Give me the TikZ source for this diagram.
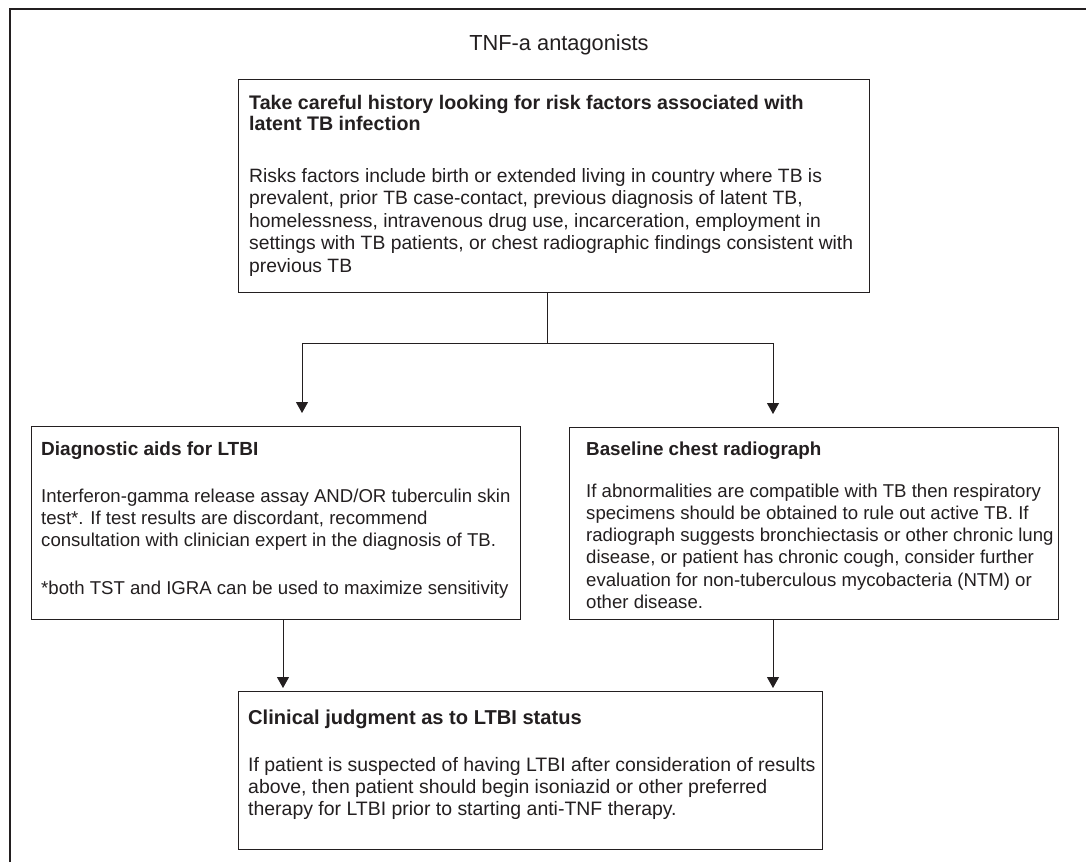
\documentclass[tikz,border=0pt]{standalone}
\usepackage{fontspec}
\setmainfont{Liberation Sans}
\usetikzlibrary{arrows.meta}
\definecolor{ink}{HTML}{231F20}
\newcommand{\lines}[1]{\begin{tabular}[t]{@{}l@{}}#1\end{tabular}}
\begin{document}
\begin{tikzpicture}[x=1pt,y=-1pt,
  box/.style={draw=ink, line width=1pt, inner sep=0pt, anchor=north west},
  txt/.style={anchor=base west, inner sep=0pt, text=ink},
  link/.style={draw=ink, line width=1pt},
  arr/.style={draw=ink, line width=1pt, -{Triangle[length=11pt,width=12pt]}}]
\useasboundingbox (0,0) rectangle (1086,862);
\fill[white] (0,0) rectangle (1086,862);
\draw[ink, line width=1.6pt] (10,862) -- (10,9) -- (1086,9);

\node[anchor=base, inner sep=0pt, text=ink, font=\fontsize{21.8}{24}\selectfont] (title) at (559,50) {TNF-a antagonists};

% boxes
\node[box, minimum width=631pt, minimum height=213pt] (top) at (238,79) {};
\node[box, minimum width=489pt, minimum height=193pt] (diag) at (31,426) {};
\node[box, minimum width=489pt, minimum height=192pt] (cxr) at (569,427) {};
\node[box, minimum width=584pt, minimum height=158pt] (clin) at (238,691) {};

% texts
\node[txt, font=\bfseries\fontsize{19.65}{21.3}\selectfont] (topH) at (249,109) {\lines{Take careful history looking for risk factors associated with\\latent TB infection}};
\node[txt, font=\fontsize{19.3}{22.5}\selectfont] (topB) at (249,182) {\lines{Risks factors include birth or extended living in country where TB is\\prevalent, prior TB case-contact, previous diagnosis of latent TB,\\homelessness, intravenous drug use, incarceration, employment in\\settings with TB patients, or chest radiographic findings consistent with\\previous TB}};

\node[txt, font=\bfseries\fontsize{19}{22}\selectfont] (diagH) at (41,455) {Diagnostic aids for LTBI};
\node[txt, font=\fontsize{18.6}{22.4}\selectfont] (diagB) at (41,502) {\lines{Interferon-gamma release assay AND/OR tuberculin skin\\test*. If test results are discordant, recommend\\consultation with clinician expert in the diagnosis of TB.}};
\node[txt, font=\fontsize{18.6}{22.4}\selectfont] (diagF) at (41,594) {*both TST and IGRA can be used to maximize sensitivity};

\node[txt, font=\bfseries\fontsize{18.8}{22}\selectfont] (cxrH) at (586,455) {Baseline chest radiograph};
\node[txt, font=\fontsize{18.6}{22.3}\selectfont] (cxrB) at (586,497) {\lines{If abnormalities are compatible with TB then respiratory\\specimens should be obtained to rule out active TB. If\\radiograph suggests bronchiectasis or other chronic lung\\disease, or patient has chronic cough, consider further\\evaluation for non-tuberculous mycobacteria (NTM) or\\other disease.}};

\node[txt, font=\bfseries\fontsize{20.1}{22}\selectfont] (clinH) at (248,724) {Clinical judgment as to LTBI status};
\node[txt, font=\fontsize{19.45}{22}\selectfont] (clinB) at (248,771) {\lines{If patient is suspected of having LTBI after consideration of results\\above, then patient should begin isoniazid or other preferred\\therapy for LTBI prior to starting anti-TNF therapy.}};

% connectors
\coordinate (split) at (547,343);
\coordinate (jl) at (302,343);
\coordinate (jr) at (773,343);
\coordinate (dl) at (283,650);
\coordinate (dr) at (773,650);
\draw[link] (split |- top.south) -- (split);
\draw[link] (jl) -- (jr);
\draw[arr, shorten >=13pt] (jl) -- (jl |- diag.north);
\draw[arr, shorten >=13pt] (jr) -- (jr |- cxr.north);
\draw[arr, shorten >=3pt] (dl |- diag.south) -- (dl |- clin.north);
\draw[arr, shorten >=3pt] (dr |- cxr.south) -- (dr |- clin.north);
\end{tikzpicture}
\end{document}
